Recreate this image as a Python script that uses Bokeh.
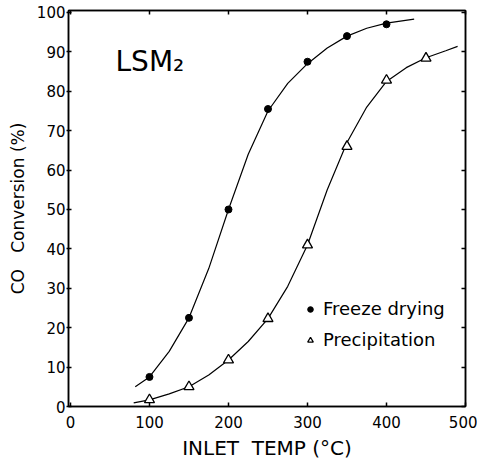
from bokeh.plotting import figure
from bokeh.models import (LinearAxis, Legend, LegendItem, Label, Range1d,
                          FixedTicker)
from bokeh.embed import file_html
from bokeh.resources import INLINE

# ---- data ----
x_ticks = [0, 100, 200, 300, 400, 500]
y_ticks = [0, 10, 20, 30, 40, 50, 60, 70, 80, 90, 100]

temp_points = [100, 150, 200, 250, 300, 350, 400]
freeze_conv = [7.5, 22.5, 50, 75.5, 87.5, 94, 97]

precip_temp = [100, 150, 200, 250, 300, 350, 400, 450]
precip_conv = [1.7, 5, 11.8, 22.3, 41, 66, 82.8, 88.4]

# smooth drawn curves
freeze_curve_t = [82, 100, 125, 150, 175, 200, 225, 250, 275, 300, 325, 350,
                  375, 400, 435]
freeze_curve_c = [5, 7.5, 14, 22.5, 35, 50, 64, 75, 82, 87, 91, 94, 96,
                  97.3, 98.3]

precip_curve_t = [80, 100, 125, 150, 175, 200, 225, 250, 275, 300, 325, 350,
                  375, 400, 425, 450, 475, 490]
precip_curve_c = [0.9, 1.7, 3.2, 5, 8, 11.8, 16.5, 22.3, 30.5, 41, 55, 67,
                  76, 82.5, 86, 88.5, 90.3, 91.4]

FONT = "DejaVu Sans"
NB = "\u00a0"

p = figure(width=477, height=462, x_range=Range1d(-2.5, 500),
           y_range=Range1d(0, 100.5), output_backend="svg",
           toolbar_location=None, min_border_left=68, min_border_right=12,
           min_border_top=10, min_border_bottom=56)
p.xgrid.visible = False
p.ygrid.visible = False
p.outline_line_color = "black"
p.outline_line_width = 1.5
p.background_fill_color = "white"
p.border_fill_color = "white"

# bottom axis
xa = p.xaxis[0]
xa.ticker = FixedTicker(ticks=x_ticks)
xa.axis_label = "INLET" + NB + NB + "TEMP" + NB + "(°C)"
xa.axis_label_text_font = FONT
xa.axis_label_text_font_size = "20px"
xa.axis_label_text_font_style = "normal"
xa.axis_label_text_color = "black"
xa.axis_label_standoff = 5
xa.major_label_text_font = FONT
xa.major_label_text_font_size = "15px"
xa.major_label_text_color = "black"
xa.major_label_standoff = 9
xa.major_tick_in = 4
xa.major_tick_out = 0
xa.minor_tick_line_color = None
xa.axis_line_width = 1.5
xa.major_tick_line_width = 1.5

# left axis
ya = p.yaxis[0]
ya.ticker = FixedTicker(ticks=y_ticks)
ya.axis_label = "CO" + NB + NB + NB + "Conversion" + NB + "(%)"
ya.axis_label_text_font = FONT
ya.axis_label_text_font_size = "17px"
ya.axis_label_text_font_style = "normal"
ya.axis_label_text_color = "black"
ya.axis_label_standoff = 6
ya.major_label_text_font = FONT
ya.major_label_text_font_size = "15px"
ya.major_label_text_color = "black"
ya.major_label_standoff = 1
ya.major_tick_in = 3
ya.major_tick_out = 2
ya.minor_tick_line_color = None
ya.axis_line_width = 1.5
ya.major_tick_line_width = 1.5

# mirrored axes (ticks only, no labels)
for ticks, place in ((x_ticks, "above"), (y_ticks, "right")):
    ax = LinearAxis(ticker=FixedTicker(ticks=ticks),
                    major_label_text_font_size="0px",
                    major_label_text_color=None,
                    major_label_standoff=0, major_tick_in=4,
                    major_tick_out=0, minor_tick_line_color=None,
                    axis_line_width=1.5, major_tick_line_width=1.5)
    p.add_layout(ax, place)

# curves
p.line(freeze_curve_t, freeze_curve_c, line_color="black", line_width=1.2)
p.line(precip_curve_t, precip_curve_c, line_color="black", line_width=1.2)

# points
r_f = p.scatter(temp_points, freeze_conv, marker="circle", size=7,
                fill_color="black", line_color="black")
r_p = p.scatter(precip_temp, precip_conv, marker="triangle", size=10,
                fill_color="white", line_color="black", line_width=1.3)

legend = Legend(items=[LegendItem(label="Freeze drying", renderers=[r_f]),
                       LegendItem(label="Precipitation", renderers=[r_p])],
                location=(235, 56), border_line_alpha=0,
                background_fill_alpha=0, padding=0, margin=0, spacing=10,
                label_height=20, glyph_height=20, glyph_width=14,
                label_standoff=6, label_text_font=FONT,
                label_text_font_size="18px", label_text_color="black")
p.add_layout(legend)

p.add_layout(Label(x=57, y=87.5, text="LSM₂", text_font=FONT,
                   text_font_size="28px", text_color="black",
                   text_baseline="alphabetic"))

open("out.html", "w").write(file_html(p, INLINE))
